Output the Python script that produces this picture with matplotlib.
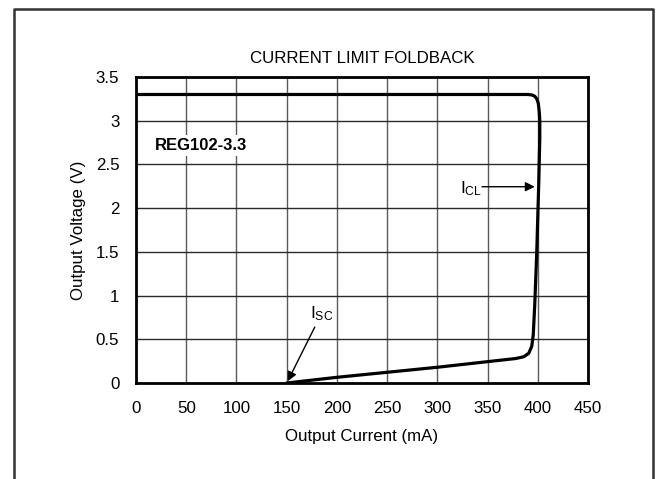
import numpy as np
import matplotlib
matplotlib.use('Agg')
import matplotlib.pyplot as plt

plt.rcParams['font.family'] = ['Liberation Sans', 'DejaVu Sans']
plt.rcParams['mathtext.fontset'] = 'custom'
plt.rcParams['mathtext.rm'] = 'Liberation Sans'

# foldback curve (mA, V)
current = [0, 300, 380, 390, 394, 397, 399, 400.5, 401.5, 402, 402, 401, 399, 397, 395.5, 394, 391, 386, 378, 300, 200, 150]
voltage = [3.3, 3.3, 3.3, 3.3, 3.295, 3.28, 3.25, 3.2, 3.1, 3.0, 2.8, 2.3, 1.5, 0.9, 0.55, 0.42, 0.34, 0.30, 0.28, 0.18, 0.065, 0.0]

xticks = [0, 50, 100, 150, 200, 250, 300, 350, 400, 450]
yticks = [0, 0.5, 1, 1.5, 2, 2.5, 3, 3.5]
ytick_labels = ['0', '0.5', '1', '1.5', '2', '2.5', '3', '3.5']

fs = 12.2

fig = plt.figure(figsize=(6.58, 4.79), dpi=100)
ax = fig.add_axes([136/658, 1 - 383/479, 452/658, 306/479])

ax.plot(current, voltage, color='black', lw=2.3, solid_joinstyle='round', solid_capstyle='round', zorder=3)

ax.set_xlim(0, 450)
ax.set_ylim(0, 3.5)
ax.set_xticks(xticks)
ax.set_yticks(yticks)
ax.set_xticklabels([str(v) for v in xticks])
ax.set_yticklabels(ytick_labels)
ax.tick_params(length=0, labelsize=fs, pad=12)
ax.tick_params(axis='x', pad=13)
ax.xaxis.grid(True, color='#5a5a5a', lw=1.0)
ax.yaxis.grid(True, color='#2a2a2a', lw=1.0)
ax.set_axisbelow(True)
for s in ax.spines.values():
    s.set_linewidth(2.0)
    s.set_color('black')
    s.set_zorder(4)

ax.set_title('CURRENT LIMIT FOLDBACK', fontsize=fs, pad=10)
ax.set_xlabel('Output Current (mA)', fontsize=fs, labelpad=9)
ax.set_ylabel('Output Voltage (V)', fontsize=fs, labelpad=7)

ax.text(19, 2.72, 'REG102-3.3', fontsize=12, fontweight='bold', ha='left', va='center',
        bbox=dict(facecolor='white', edgecolor='none', pad=2))

# annotations
ax.annotate('', xy=(151, 0.02), xytext=(178, 0.64),
            arrowprops=dict(arrowstyle='-|>', color='black', lw=1.0, mutation_scale=14, shrinkA=0, shrinkB=0))
ax.text(185, 0.79, r'$\mathregular{I_{SC}}$', fontsize=12.5, ha='center', va='center')
ax.annotate('', xy=(397, 2.245), xytext=(344.5, 2.245),
            arrowprops=dict(arrowstyle='-|>', color='black', lw=1.0, mutation_scale=14, shrinkA=0, shrinkB=0))
ax.text(334, 2.22, r'$\mathregular{I_{CL}}$', fontsize=12.5, ha='center', va='center')

# outer frame (open at bottom)
fig.add_artist(plt.Line2D([14/658, 14/658, 653/658, 653/658], [0, 1 - 9/479, 1 - 9/479, 0],
                          transform=fig.transFigure, color='#333333', lw=1.8))

fig.savefig('out.png', dpi=100)
